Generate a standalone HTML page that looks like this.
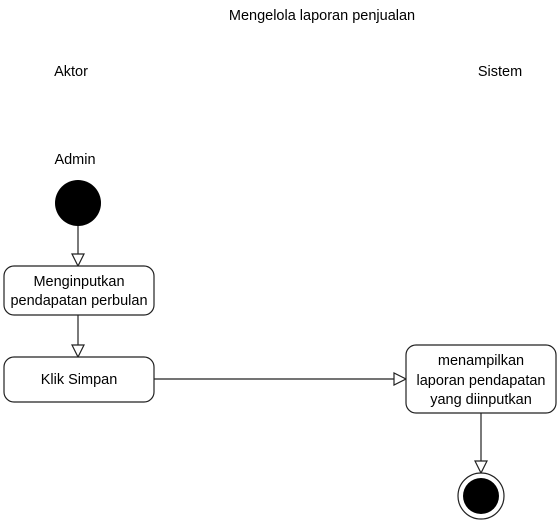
<!DOCTYPE html>
<html><head><style>body{margin:0;background:#fff}svg{display:block}text{font-family:"Liberation Sans",sans-serif;font-size:14.5px;fill:#000}</style></head><body>
<svg width="560" height="523" viewBox="0 0 560 523">
<text x="322" y="20" text-anchor="middle">Mengelola laporan penjualan</text>
<text x="71" y="76" text-anchor="middle">Aktor</text>
<text x="500" y="76" text-anchor="middle">Sistem</text>
<text x="75" y="164" text-anchor="middle">Admin</text>
<circle cx="78" cy="203" r="23" fill="#000"/>
<g stroke="#222" stroke-width="1.2" fill="#fff">
<line x1="78" y1="226" x2="78" y2="254"/>
<polygon points="72,254 84,254 78,266"/>
<line x1="78" y1="315" x2="78" y2="345"/>
<polygon points="72,345 84,345 78,357"/>
<line x1="154" y1="379" x2="394" y2="379"/>
<polygon points="394,373 394,385 406,379"/>
<line x1="481" y1="413" x2="481" y2="461"/>
<polygon points="475,461 487,461 481,473"/>
<rect x="4" y="266" width="150" height="49" rx="10"/>
<rect x="4" y="357" width="150" height="45" rx="10"/>
<rect x="406" y="345" width="150" height="68" rx="10"/>
<circle cx="481" cy="496" r="23"/>
</g>
<circle cx="481" cy="496" r="18" fill="#000"/>
<text x="79" y="286" text-anchor="middle">Menginputkan</text>
<text x="79" y="305" text-anchor="middle">pendapatan perbulan</text>
<text x="79" y="384" text-anchor="middle">Klik Simpan</text>
<text x="481" y="365" text-anchor="middle">menampilkan</text>
<text x="481" y="385" text-anchor="middle">laporan pendapatan</text>
<text x="481" y="404" text-anchor="middle">yang diinputkan</text>
</svg>
</body></html>
